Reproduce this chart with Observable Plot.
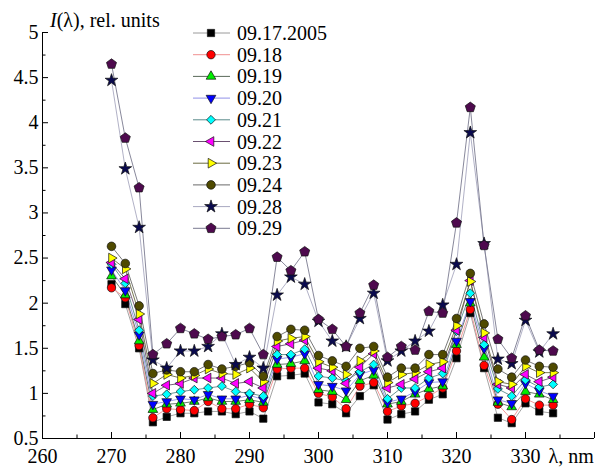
<!DOCTYPE html>
<html><head><meta charset="utf-8">
<script src="https://cdn.jsdelivr.net/npm/d3@7"></script>
<script src="https://cdn.jsdelivr.net/npm/@observablehq/plot@0.6"></script>
<style>body{margin:0;background:#fff} #chart{width:607px;height:468px} #chart svg text{font-family:"Liberation Serif","DejaVu Serif","Noto Serif","Tinos","FreeSerif","Nimbus Roman","Nimbus Roman No9 L","Times New Roman","Times",serif !important;}</style>
</head><body><div id="chart"></div>
<script>
const lambda = [270,272,274,276,278,280,282,284,286,288,290,292,294,296,298,300,302,304,306,308,310,312,314,316,318,320,322,324,326,328,330,332,334];
const s0917 = [2.21,1.99,1.50,0.68,0.74,0.78,0.78,0.80,0.80,0.77,0.80,0.72,1.19,1.20,1.22,0.90,0.88,0.78,0.97,1.09,0.71,0.77,0.80,0.93,0.99,1.39,1.89,1.28,0.73,0.67,0.89,0.80,0.78];
const s0918 = [2.17,2.06,1.53,0.73,0.83,0.82,0.81,0.91,0.83,0.83,0.88,0.84,1.27,1.28,1.28,1.00,0.96,0.83,1.08,1.12,0.80,0.86,0.89,0.97,1.06,1.47,1.93,1.31,0.88,0.71,0.94,0.87,0.87];
const s0919 = [2.30,2.09,1.58,0.82,0.88,0.89,0.91,0.95,0.91,0.91,0.93,0.90,1.32,1.33,1.36,1.04,1.02,0.93,1.14,1.20,0.88,0.91,0.99,1.05,1.08,1.54,2.00,1.40,0.90,0.85,1.02,0.99,0.93];
const s0920 = [2.37,2.14,1.65,0.88,0.91,0.94,0.93,0.99,0.94,0.94,0.98,0.93,1.38,1.40,1.44,1.10,1.08,1.03,1.21,1.26,0.90,0.94,1.02,1.12,1.13,1.58,2.02,1.50,0.93,0.89,1.11,1.03,0.97];
const s0921 = [2.43,2.22,1.70,0.97,0.99,1.02,1.04,1.06,1.08,1.02,1.00,0.97,1.43,1.43,1.49,1.19,1.17,1.14,1.24,1.32,0.94,1.06,1.06,1.17,1.22,1.69,2.11,1.54,1.05,0.97,1.15,1.07,1.10];
const s0922 = [2.45,2.27,1.82,1.00,1.09,1.11,1.17,1.17,1.17,1.11,1.13,1.06,1.52,1.55,1.59,1.28,1.25,1.11,1.29,1.44,1.06,1.10,1.16,1.24,1.28,1.70,2.25,1.62,1.10,1.06,1.21,1.13,1.18];
const s0923 = [2.50,2.38,1.88,1.11,1.21,1.17,1.20,1.27,1.22,1.21,1.28,1.13,1.58,1.61,1.63,1.35,1.29,1.21,1.36,1.47,1.12,1.21,1.23,1.32,1.35,1.75,2.24,1.67,1.13,1.10,1.30,1.23,1.23];
const s0924 = [2.63,2.44,1.97,1.22,1.26,1.24,1.24,1.32,1.27,1.30,1.34,1.19,1.63,1.71,1.70,1.42,1.36,1.30,1.50,1.52,1.18,1.28,1.28,1.43,1.43,1.83,2.33,1.77,1.27,1.18,1.37,1.30,1.29];
const s0928 = [4.47,3.49,2.84,1.37,1.28,1.47,1.47,1.52,1.66,1.32,1.40,1.28,2.09,2.29,2.21,1.80,1.58,1.52,1.83,2.11,1.36,1.47,1.58,1.69,1.98,2.43,3.89,2.66,1.38,1.33,1.81,1.46,1.66];
const s0929 = [4.65,3.83,3.28,1.43,1.55,1.72,1.66,1.60,1.63,1.65,1.72,1.43,2.51,2.36,2.57,1.82,1.71,1.52,1.89,2.20,1.40,1.52,1.48,1.91,1.89,2.89,4.17,2.64,1.60,1.39,1.86,1.48,1.47];
const seriesNames = ["09.17.2005","09.18","09.19","09.20","09.21","09.22","09.23","09.24","09.28","09.29"];
const xTicks = [260,270,280,290,300,310,320,330,340];
const xTickLabels = ["260","270","280","290","300","310","320","330"];
const xMinor = [265,275,285,295,305,315,325,335];
const yTicks = [0.5,1,1.5,2,2.5,3,3.5,4,4.5,5];
const yTickLabels = ["0.5","1","1.5","2","2.5","3","3.5","4","4.5","5"];
const yMinor = [0.75,1.25,1.75,2.25,2.75,3.25,3.75,4.25,4.75];

const allSeries = [s0917,s0918,s0919,s0920,s0921,s0922,s0923,s0924,s0928,s0929];
const fills = ["#000000","#ff0000","#00ee00","#0000ff","#00ffff","#ff00ff","#ffff00","#4f4a00","#0a0a4e","#4e0a4e"];
const lineColors = ["#9a9a9a","#f09090","#5a6a5a","#9090e8","#5a8a8a","#6a5070","#6a6a40","#6a6a6a","#a8a8c0","#7a7a90"];
const SERIF = "'Liberation Serif', 'DejaVu Serif', 'Noto Serif', Tinos, FreeSerif, 'Times New Roman', Times, serif";

const S3 = Math.sqrt(3);
function triR(size){return Math.sqrt(size*4/(3*S3));}
const triUp = {draw(c,s){const R=triR(s);c.moveTo(0,-R);c.lineTo(R*S3/2,R/2);c.lineTo(-R*S3/2,R/2);c.closePath();}};
const triDown = {draw(c,s){const R=triR(s);c.moveTo(0,R);c.lineTo(-R*S3/2,-R/2);c.lineTo(R*S3/2,-R/2);c.closePath();}};
const triLeft = {draw(c,s){const R=triR(s);c.moveTo(-R,0);c.lineTo(R/2,-R*S3/2);c.lineTo(R/2,R*S3/2);c.closePath();}};
const triRight = {draw(c,s){const R=triR(s);c.moveTo(R,0);c.lineTo(-R/2,R*S3/2);c.lineTo(-R/2,-R*S3/2);c.closePath();}};
const pentagon = {draw(c,s){const R=Math.sqrt(s/(2.5*Math.sin(2*Math.PI/5)));for(let k=0;k<5;k++){const a=-Math.PI/2+k*2*Math.PI/5;const px=R*Math.cos(a),py=R*Math.sin(a);if(k===0)c.moveTo(px,py);else c.lineTo(px,py);}c.closePath();}};
const symbols = [d3.symbolSquare, d3.symbolCircle, triUp, triDown, d3.symbolDiamond2, triLeft, triRight, d3.symbolHexagon || d3.symbolCircle, d3.symbolStar, pentagon];
const rad = [4.1,4.2,3.6,3.6,4.0,3.6,3.6,4.3,4.0,4.6];

const W=607,H=468,mL=42,mR=13,mT=32,mB=30;
const plotW=W-mL-mR, plotH=H-mT-mB;

const marks = [
  Plot.ruleY([0.5],{stroke:"#000",strokeWidth:1}),
  Plot.ruleX([260],{stroke:"#000",strokeWidth:1}),
  Plot.tickX(xTicks,{x:d=>d,insetTop:plotH-6,stroke:"#000"}),
  Plot.tickX(xMinor,{x:d=>d,insetTop:plotH-3.5,stroke:"#000"}),
  Plot.tickY(yTicks,{y:d=>d,insetRight:plotW-6,stroke:"#000"}),
  Plot.tickY(yMinor,{y:d=>d,insetRight:plotW-3.5,stroke:"#000"}),
  Plot.text(xTickLabels,{x:d=>+d,text:d=>d,frameAnchor:"bottom",dy:18,lineAnchor:"middle",fill:"#000",fontFamily:SERIF}),
  Plot.text(yTickLabels,{y:d=>+d,text:d=>d,frameAnchor:"left",dx:-4,textAnchor:"end",lineAnchor:"middle",fill:"#000",fontFamily:SERIF}),
  Plot.text(["λ, nm"],{frameAnchor:"bottom-right",dx:-46,dy:18,textAnchor:"start",lineAnchor:"middle",fill:"#000",fontFamily:SERIF})
];
allSeries.forEach((s,i)=>{
  const data = lambda.map((x,j)=>({x, y:s[j]}));
  marks.push(Plot.line(data,{x:"x",y:"y",stroke:lineColors[i],strokeWidth:0.9}));
});
allSeries.forEach((s,i)=>{
  const data = lambda.map((x,j)=>({x, y:s[j]}));
  marks.push(Plot.dot(data,{x:"x",y:"y",symbol:symbols[i],r:rad[i],fill:fills[i],stroke:"#111",strokeWidth:0.7}));
});

const svg = Plot.plot({
  width:W,height:H,marginLeft:mL,marginRight:mR,marginTop:mT,marginBottom:mB,
  x:{domain:[260,340],axis:null},
  y:{domain:[0.5,5],axis:null},
  style:{fontFamily:SERIF,fontSize:"20px",background:"#fff",color:"#000"},
  marks
});
svg.setAttribute("font-family", SERIF);
document.getElementById("chart").appendChild(svg);

const sel = d3.select(svg);
const title = sel.append("text").attr("x",50).attr("y",27).attr("font-size",20).attr("fill","#000").attr("text-anchor","start").attr("font-family",SERIF);
title.append("tspan").attr("font-style","italic").text("I");
title.append("tspan").text("(λ), rel. units");

const lg = sel.append("g").attr("text-anchor","start");
seriesNames.forEach((name,i)=>{
  const cy = 33 + i*21.7;
  lg.append("line").attr("x1",193).attr("x2",230).attr("y1",cy).attr("y2",cy).attr("stroke",lineColors[i]).attr("stroke-width",1);
  lg.append("path").attr("transform",`translate(211,${cy})`)
    .attr("d",d3.symbol(symbols[i], Math.PI*rad[i]*rad[i])())
    .attr("fill",fills[i]).attr("stroke","#111").attr("stroke-width",0.7);
  lg.append("text").attr("x",237).attr("y",cy+7).attr("font-size",20).attr("fill","#000").attr("text-anchor","start").attr("font-family",SERIF).text(name);
});
</script></body></html>
